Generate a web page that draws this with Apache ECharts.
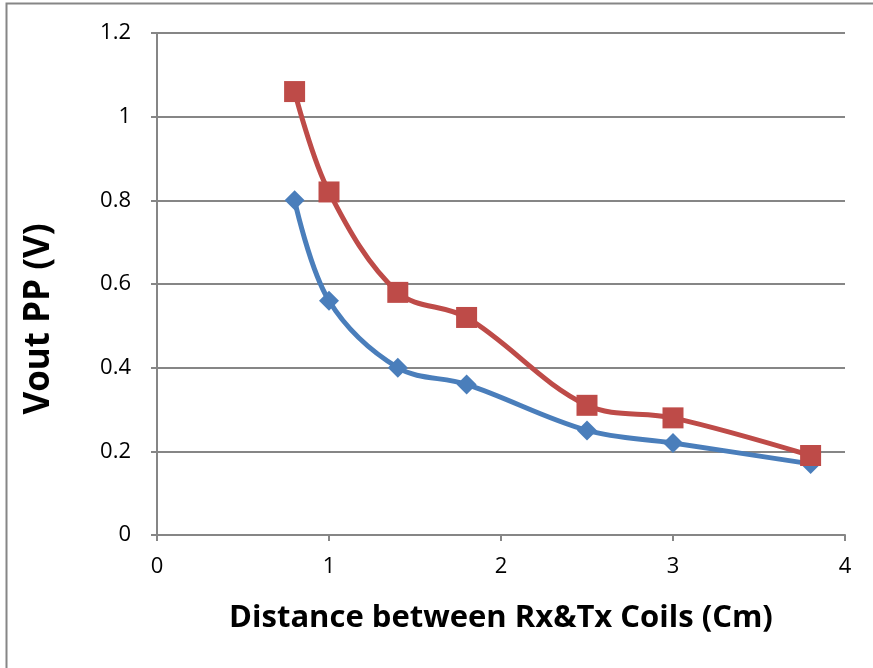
<!DOCTYPE html>
<html>
<head>
<meta charset="utf-8">
<script src="https://cdn.jsdelivr.net/npm/echarts@6/dist/echarts.min.js"></script>
<style>
  html, body { margin: 0; padding: 0; background: #fff; }
  #chart { width: 873px; height: 668px; }
</style>
</head>
<body>
<div id="chart"></div>
<script>
// Coil separation (cm) and peak-to-peak output voltage (V)
const distances = [0.8, 1, 1.4, 1.8, 2.5, 3, 3.8];
const voutBlue = [0.8, 0.56, 0.4, 0.36, 0.25, 0.22, 0.17];
const voutRed = [1.06, 0.82, 0.58, 0.52, 0.31, 0.28, 0.19];
const xTitle = 'Distance between Rx&Tx Coils (Cm)';
const yTitle = 'Vout PP (V)';

const pairs = (xs, ys) => xs.map((x, i) => [x, ys[i]]);
const font = '"Open Sans", "Liberation Sans", sans-serif';

const chart = echarts.init(document.getElementById('chart'), null, { renderer: 'canvas' });
chart.setOption({
  backgroundColor: '#ffffff',
  animation: false,
  grid: { left: 157, right: 28, top: 33, bottom: 133 },
  graphic: [{
    type: 'rect',
    shape: { x: 6.5, y: 3.5, width: 900, height: 700 },
    style: { fill: 'none', stroke: '#868686', lineWidth: 2 },
    silent: true
  }],
  xAxis: {
    type: 'value', min: 0, max: 4, interval: 1,
    name: xTitle, nameLocation: 'middle', nameGap: 68,
    nameTextStyle: { fontFamily: font, fontSize: 31, fontWeight: 'bold', color: '#000' },
    axisLine: { show: true, onZero: false, lineStyle: { color: '#868686', width: 2 } },
    axisTick: { show: true, length: 6, lineStyle: { color: '#868686', width: 2 } },
    axisLabel: { fontFamily: font, fontSize: 22, color: '#000', margin: 21 },
    splitLine: { show: false }
  },
  yAxis: {
    type: 'value', min: 0, max: 1.2, interval: 0.2,
    name: yTitle, nameLocation: 'middle', nameGap: 100,
    nameTextStyle: {
      fontFamily: font, fontSize: 35, fontWeight: 'bold', color: '#000',
      padding: [0, 70, 0, 0]
    },
    axisLine: { show: true, lineStyle: { color: '#868686', width: 2 } },
    axisTick: { show: true, length: 6, lineStyle: { color: '#868686', width: 2 } },
    axisLabel: { fontFamily: font, fontSize: 22, color: '#000', margin: 26 },
    splitLine: { show: true, lineStyle: { color: '#868686', width: 2 } }
  },
  series: [
    {
      type: 'line', data: pairs(distances, voutBlue), smooth: 0.35,
      symbol: 'diamond', symbolSize: 20,
      lineStyle: { color: '#4A7EBB', width: 5 },
      itemStyle: { color: '#4A7EBB' }
    },
    {
      type: 'line', data: pairs(distances, voutRed), smooth: 0.35,
      symbol: 'rect', symbolSize: 21,
      lineStyle: { color: '#BE4B48', width: 5 },
      itemStyle: { color: '#BE4B48' }
    }
  ]
});
</script>
</body>
</html>
